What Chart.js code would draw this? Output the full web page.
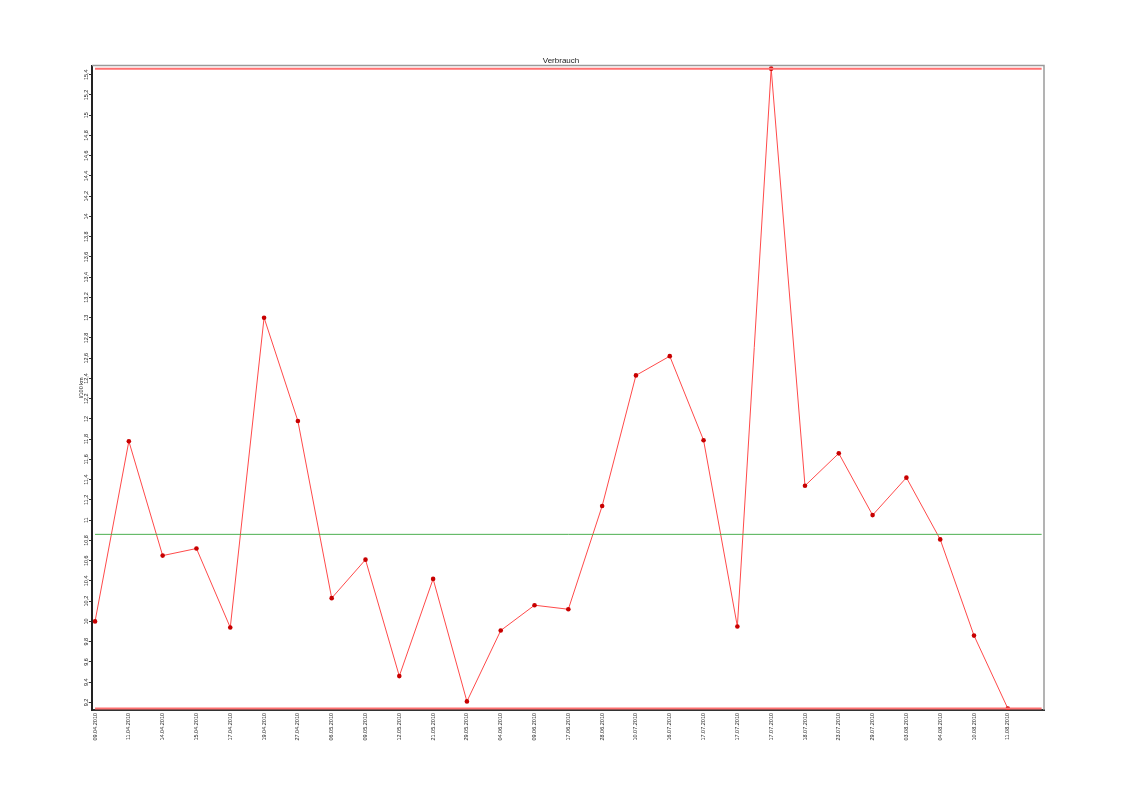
<!DOCTYPE html>
<html>
<head>
<meta charset="utf-8">
<title>Verbrauch</title>
<script src="https://cdn.jsdelivr.net/npm/chart.js@4.4.1/dist/chart.umd.min.js"></script>
<style>
  html, body { margin: 0; padding: 0; background: #fff; }
  #wrap { width: 1123px; height: 794px; }
</style>
</head>
<body>
<div id="wrap"><canvas id="chart"></canvas></div>
<script>
const dates = [
  '09.04.2010', '11.04.2010', '14.04.2010', '15.04.2010', '17.04.2010', '19.04.2010', '27.04.2010',
  '06.05.2010', '09.05.2010', '12.05.2010', '21.05.2010', '29.05.2010', '04.06.2010', '09.06.2010',
  '17.06.2010', '28.06.2010', '10.07.2010', '16.07.2010', '17.07.2010', '17.07.2010', '17.07.2010',
  '18.07.2010', '23.07.2010', '29.07.2010', '03.08.2010', '04.08.2010', '10.08.2010', '11.08.2010'
];
const consumption = [
  10.0, 11.78, 10.65, 10.72, 9.94, 13.0, 11.98,
  10.23, 10.61, 9.46, 10.42, 9.21, 9.91, 10.16,
  10.12, 11.14, 12.43, 12.62, 11.79, 9.95, 15.46,
  11.34, 11.66, 11.05, 11.42, 10.81, 9.86, 9.14
];
const average = 10.86;
const maxValue = 15.46;
const minValue = 9.14;
const yTicks = [
  9.2, 9.4, 9.6, 9.8, 10, 10.2, 10.4, 10.6, 10.8, 11, 11.2, 11.4, 11.6, 11.8, 12, 12.2,
  12.4, 12.6, 12.8, 13, 13.2, 13.4, 13.6, 13.8, 14, 14.2, 14.4, 14.6, 14.8, 15, 15.2, 15.4
];

const points = consumption.map((v, i) => ({ x: i, y: v }));
const lastX = dates.length;
const refLine = (value) => [{ x: 0, y: value }, { x: lastX, y: value }];

// grey frame on top and right, the axes draw left and bottom
const frameBorder = {
  id: 'frameBorder',
  afterDraw(chart) {
    const { ctx, chartArea: a } = chart;
    ctx.save();
    ctx.strokeStyle = '#9a9a9a';
    ctx.lineWidth = 1.5;
    ctx.beginPath();
    ctx.moveTo(a.left, a.top);
    ctx.lineTo(a.right, a.top);
    ctx.lineTo(a.right, a.bottom);
    ctx.stroke();
    ctx.restore();
  }
};

new Chart(document.getElementById('chart').getContext('2d'), {
  type: 'line',
  data: {
    datasets: [
      {
        label: 'Maximum',
        data: refLine(maxValue),
        borderColor: '#ff7070',
        borderWidth: 2,
        pointRadius: 0
      },
      {
        label: 'Minimum',
        data: refLine(minValue),
        borderColor: '#ff7070',
        borderWidth: 2,
        pointRadius: 0
      },
      {
        label: 'Durchschnitt',
        data: refLine(average),
        borderColor: '#4caf50',
        borderWidth: 1,
        pointRadius: 0
      },
      {
        label: 'Verbrauch',
        data: points,
        borderColor: '#ff4a4a',
        borderWidth: 1,
        tension: 0,
        pointRadius: 2.3,
        pointBackgroundColor: '#c80000',
        pointBorderWidth: 0
      }
    ]
  },
  options: {
    responsive: true,
    maintainAspectRatio: false,
    animation: false,
    layout: { padding: { left: 78, right: 79, top: 0, bottom: 0 } },
    plugins: {
      legend: { display: false },
      tooltip: { enabled: false },
      title: {
        display: true,
        text: 'Verbrauch',
        color: '#222',
        font: { family: 'Liberation Sans', size: 8, weight: 'normal' },
        padding: { top: 56, bottom: 0 }
      }
    },
    scales: {
      x: {
        type: 'linear',
        min: -0.09,
        max: 28.07,
        afterBuildTicks: (scale) => { scale.ticks = dates.map((d, i) => ({ value: i })); },
        afterFit: (scale) => { scale.height = 84; },
        grid: { display: false, drawTicks: false },
        border: { display: true, color: '#333', width: 2 },
        ticks: {
          autoSkip: false,
          minRotation: 90,
          maxRotation: 90,
          padding: 3,
          color: '#222',
          font: { family: 'Liberation Sans', size: 5.5 },
          callback: (value) => dates[value]
        }
      },
      y: {
        type: 'linear',
        min: 9.125,
        max: 15.49,
        afterBuildTicks: (scale) => { scale.ticks = yTicks.map(v => ({ value: v })); },
        afterFit: (scale) => { scale.width = 14; },
        grid: { drawOnChartArea: false, drawTicks: true, tickLength: 3, color: '#333' },
        border: { display: true, color: '#222', width: 2 },
        title: {
          display: true,
          text: 'l/100 km',
          color: '#222',
          font: { family: 'Liberation Sans', size: 5.5 },
          padding: 0
        },
        ticks: {
          autoSkip: false,
          minRotation: 90,
          maxRotation: 90,
          crossAlign: 'center',
          padding: -3,
          color: '#222',
          font: { family: 'Liberation Sans', size: 5.5 },
          callback: (value) => String(value).replace('.', ',')
        }
      }
    }
  },
  plugins: [frameBorder]
});
</script>
</body>
</html>
